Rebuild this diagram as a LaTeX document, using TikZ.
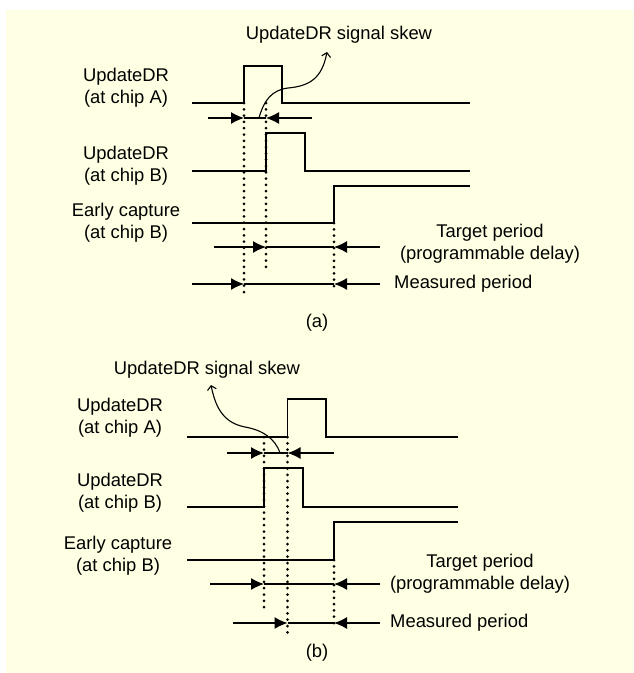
\documentclass[tikz,border=0pt]{standalone}
\usepackage{fontspec}
\setmainfont{Liberation Sans}
\usetikzlibrary{arrows.meta, positioning, calc}
\definecolor{paper}{HTML}{FFFFE3}

\begin{document}
\begin{tikzpicture}[x=1pt, y=-1pt,
  lbl/.style={align=center, font=\fontsize{18.4}{22}\selectfont, inner sep=0pt},
  wave/.style={line width=1.4pt},
  dots/.style={line width=3pt, dash pattern=on 0pt off 6.3pt, line cap=round},
  dim/.style={line width=1.3pt, -{Latex[length=13pt,width=12pt]}},
  skewarr/.style={line width=1.1pt, -{Straight Barb[length=4pt,width=9pt]}}]
  \useasboundingbox (0,0) rectangle (633,673);
  \fill[paper] (6,10) rectangle (633,673);

  % (a): chip B lags chip A
  \node[lbl] (skewA) at (339,35) {UpdateDR signal skew};
  \node[lbl] (aA) at (126,88) {UpdateDR\\(at chip A)};
  \node[lbl] (aB) at (126,166) {UpdateDR\\(at chip B)};
  \node[lbl] (aC) at (126,222.5) {Early capture\\(at chip B)};
  \node[lbl] (aT) at (490,243.5) {Target period\\(programmable delay)};
  \node[lbl, anchor=west] (aM) at (394,284) {Measured period};
  \node[lbl] (capA) at (317,323) {(a)};

  \draw[wave] (192,103) -- (244,103) -- (244,66) -- (282,66) -- (282,103) -- (470,103);
  \draw[wave] (192,171) -- (266,171) -- (266,133) -- (305,133) -- (305,171) -- (470,171);
  \draw[wave] (192,223) -- (334,223) -- (334,186) -- (470,186);

  \draw[dots] (244,103) -- (244,296);
  \draw[dots] (266,103) -- (266,273);
  \draw[dots] (334,223) -- (334,291);

  \foreach \y/\l/\p/\q/\r in {118/208/244/266/312, 247/214/266/334/380, 284/192/244/334/380} {
    \coordinate (L) at (\l,\y); \coordinate (P) at (\p,\y);
    \coordinate (Q) at (\q,\y); \coordinate (R) at (\r,\y);
    \draw[dim] (L) -- (P); \draw[dim] (R) -- (Q); \draw[line width=1.3pt] (P) -- (Q);
  }
  \draw[skewarr] (259,118) .. controls (264,100) and (272,90) .. (288,88)
    .. controls (310,86) and (322,78) .. (327,52);

  % (b): chip B leads chip A
  \node[lbl] (skewB) at (207,370) {UpdateDR signal skew};
  \node[lbl] (bA) at (120,418) {UpdateDR\\(at chip A)};
  \node[lbl] (bB) at (120,493) {UpdateDR\\(at chip B)};
  \node[lbl] (bC) at (118,555.5) {Early capture\\(at chip B)};
  \node[lbl] (bT) at (480,574) {Target period\\(programmable delay)};
  \node[lbl, anchor=west] (bM) at (390,623) {Measured period};
  \node[lbl] (capB) at (317,653) {(b)};

  \draw[wave] (187,437) -- (287.5,437) -- (287.5,399) -- (326,399) -- (326,437) -- (458,437);
  \draw[wave] (187,507) -- (264,507) -- (264,468) -- (303,468) -- (303,507) -- (458,507);
  \draw[wave] (187,560) -- (334,560) -- (334,522) -- (458,522);

  \draw[dots] (264,437) -- (264,609);
  \draw[dots] (287.5,437) -- (287.5,634);
  \draw[dots] (334,560) -- (334,629);

  \foreach \y/\l/\p/\q/\r in {453/227/264/287.5/334, 584/210/264/334/380, 623/233/287.5/334/380} {
    \coordinate (L) at (\l,\y); \coordinate (P) at (\p,\y);
    \coordinate (Q) at (\q,\y); \coordinate (R) at (\r,\y);
    \draw[dim] (L) -- (P); \draw[dim] (R) -- (Q); \draw[line width=1.3pt] (P) -- (Q);
  }
  \draw[skewarr] (280,453) .. controls (275,438) and (262,430) .. (245,427)
    .. controls (225,423) and (216,410) .. (211,385);
\end{tikzpicture}
\end{document}
